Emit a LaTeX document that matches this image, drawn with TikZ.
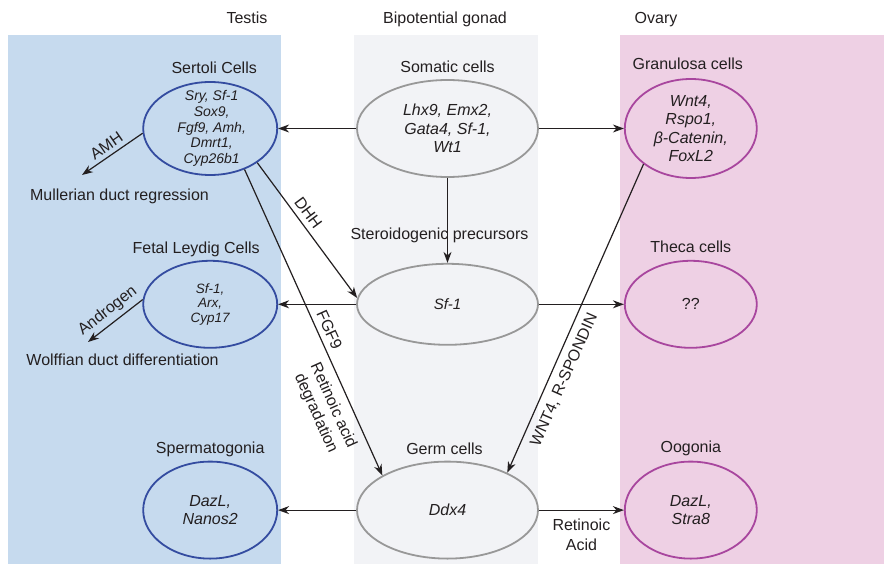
\documentclass[tikz,border=0pt]{standalone}
\usepackage{fontspec}
\setmainfont{Liberation Sans}
\usetikzlibrary{arrows.meta,positioning,shapes.geometric}

\definecolor{testisbg}{RGB}{198,218,238}
\definecolor{gonadbg}{RGB}{242,243,246}
\definecolor{ovarybg}{RGB}{238,208,228}
\definecolor{testisline}{RGB}{52,76,160}
\definecolor{gonadline}{RGB}{152,152,152}
\definecolor{ovaryline}{RGB}{168,70,158}
\definecolor{ink}{RGB}{35,31,32}

\begin{document}
\begin{tikzpicture}[
  x=1bp, y=-1bp,
  color=ink,
  font=\fontsize{16bp}{19bp}\selectfont,
  cell/.style={ellipse, draw, line width=1.8bp, inner sep=0pt},
  testis/.style={cell, draw=testisline, minimum width=134bp},
  gonad/.style={cell, draw=gonadline, minimum width=181bp},
  ovary/.style={cell, draw=ovaryline, minimum width=132bp},
  title/.style={inner sep=0pt, text height=11.5bp, text depth=3.5bp},
  genes/.style={align=center, font=\fontsize{16bp}{18.5bp}\itshape},
  smallgenes/.style={align=center, font=\fontsize{14bp}{15.7bp}\itshape},
  arrow/.style={-{Stealth[length=11bp, width=8bp, inset=3.5bp]}, line width=1.2bp, draw=ink}
]
\useasboundingbox (0,0) rectangle (884,564);
\fill[testisbg] (8,35) rectangle (281,564);
\fill[gonadbg] (354,35) rectangle (538,564);
\fill[ovarybg] (620,35) rectangle (884,564);

\node[title] (testishead) at (247,19.5) {Testis};
\node[title] (gonadhead) at (445,19.5) {Bipotential gonad};
\node[title] (ovaryhead) at (656,19.5) {Ovary};

\node[gonad, minimum height=97bp] (somatic) at (447.5,128.5) {};
\node[testis, minimum height=93bp, left=78bp of somatic] (sertoli) {};
\node[ovary, minimum height=99bp, right=85bp of somatic] (granulosa) {};
\node[gonad, minimum height=81bp, below=85bp of somatic] (sf1) {};
\node[testis, minimum height=87bp, left=78bp of sf1] (leydig) {};
\node[ovary, minimum height=87bp, right=85bp of sf1] (theca) {};
\node[gonad, minimum height=97bp, below=115bp of sf1] (germ) {};
\node[testis, minimum height=97bp, left=78bp of germ] (spermatogonia) {};
\node[ovary, minimum height=97bp, right=85bp of germ] (oogonia) {};

\node[title, above=3.5bp of sertoli, xshift=4bp] (sertolititle) {Sertoli Cells};
\node[title, above=2.5bp of somatic] (somatictitle) {Somatic cells};
\node[title, above=5bp of granulosa, xshift=-3bp] (granulosatitle) {Granulosa cells};
\node[title, above=3bp of leydig, xshift=-14bp] (leydigtitle) {Fetal Leydig Cells};
\node[title, above=19.5bp of sf1, xshift=-8bp] (sf1title) {Steroidogenic precursors};
\node[title, above=3.5bp of theca] (thecatitle) {Theca cells};
\node[title, above=4bp of spermatogonia] (spermatogoniatitle) {Spermatogonia};
\node[title, above=2.5bp of germ, xshift=-3bp] (germtitle) {Germ cells};
\node[title, above=5bp of oogonia] (oogoniatitle) {Oogonia};

\node[smallgenes, xshift=1.5bp] (sertolitext) at (sertoli) {Sry, Sf-1\\Sox9,\\Fgf9, Amh,\\Dmrt1,\\Cyp26b1};
\node[genes] (somatictext) at (somatic) {Lhx9, Emx2,\\Gata4, Sf-1,\\Wt1};
\node[genes] (granulosatext) at (granulosa) {Wnt4,\\Rspo1,\\β-Catenin,\\FoxL2};
\node[smallgenes, font=\fontsize{13.5bp}{14.5bp}\itshape] (leydigtext) at (leydig) {Sf-1,\\Arx,\\Cyp17};
\node[genes, font=\fontsize{15bp}{18bp}\itshape] (sf1text) at (sf1) {Sf-1};
\node[align=center] (thecatext) at (theca) {??};
\node[genes] (spermatogoniatext) at (spermatogonia) {DazL,\\Nanos2};
\node[genes] (germtext) at (germ) {Ddx4};
\node[genes] (oogoniatext) at (oogonia) {DazL,\\Stra8};

\node[title] (mullerian) at (119.5,197) {Mullerian duct regression};
\node[title] (wolffian) at (122.5,361.3) {Wolffian duct differentiation};
\coordinate (amhend) at (82,175);
\coordinate (androgenend) at (88,342);

\draw[arrow] (somatic) -- (sertoli);
\draw[arrow] (somatic) -- (granulosa);
\draw[arrow] (somatic) -- (sf1);
\draw[arrow] (sf1) -- (leydig);
\draw[arrow] (sf1) -- (theca);
\draw[arrow] (germ) -- (spermatogonia);
\draw[arrow] (germ) -- node[below=5bp, align=center, font=\fontsize{16bp}{20bp}\selectfont] (ratext) {Retinoic\\Acid} (oogonia);
\draw[arrow] (sertoli.-36) -- node[sloped, above=2bp, pos=.42] (dhhtext) {DHH} (sf1.176);
\draw[arrow] (sertoli.-50) -- node[sloped, above=2bp, pos=.54] (fgftext) {FGF9}
  node[sloped, below=5bp, pos=.75, align=center] (degradtext) {Retinoic acid\\degradation} (germ.152);
\draw[arrow] (granulosa.-143) -- node[sloped, below=4bp, pos=.68] (wnttext) {WNT4, R-SPONDIN} (germ.32);
\draw[arrow] (sertoli.184) -- node[sloped, above=1bp] (amhtext) {AMH} (amhend);
\draw[arrow] (leydig.176) -- node[sloped, above=1bp] (androgentext) {Androgen} (androgenend);
\end{tikzpicture}
\end{document}
